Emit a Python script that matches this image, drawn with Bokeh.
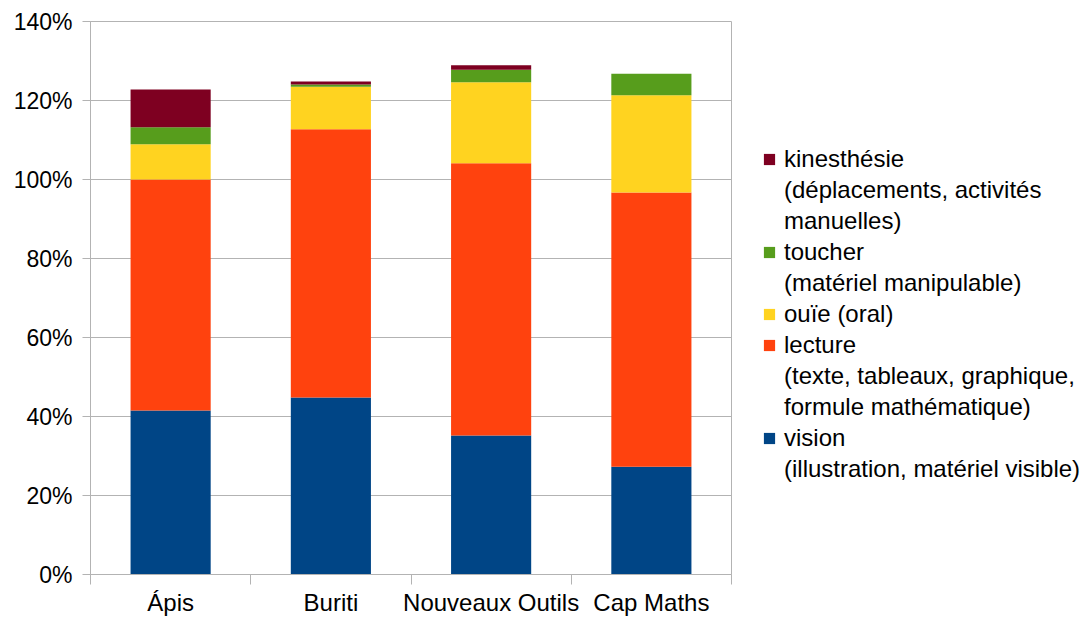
from bokeh.plotting import figure
from bokeh.layouts import row
from bokeh.models import (FixedTicker, PrintfTickFormatter, Legend, LegendItem, ColumnDataSource, Range1d)
from bokeh.embed import file_html
from bokeh.resources import INLINE

categories = ["Ápis", "Buriti", "Nouveaux Outils", "Cap Maths"]
vision = [41.5, 44.8, 35.2, 27.3]
lecture = [58.5, 67.9, 68.9, 69.4]
ouie = [8.9, 10.8, 20.5, 24.6]
toucher = [4.3, 0.55, 3.2, 5.5]
kinesthesie = [9.6, 0.75, 1.1, 0.0]
y_ticks = [0, 20, 40, 60, 80, 100, 120, 140]

series = [
    ("vision", vision, "#004586", ["vision", "(illustration, matériel visible)"]),
    ("lecture", lecture, "#ff420e", ["lecture", "(texte, tableaux, graphique,", "formule mathématique)"]),
    ("ouie", ouie, "#ffd320", ["ouïe (oral)"]),
    ("toucher", toucher, "#579d1c", ["toucher", "(matériel manipulable)"]),
    ("kinesthesie", kinesthesie, "#7e0021", ["kinesthésie", "(déplacements, activités", "manuelles)"]),
]

FONT = "Liberation Sans"
GRID = "#b3b3b3"

p = figure(width=741, height=618, output_backend="svg", toolbar_location=None,
           x_range=Range1d(0, len(categories)), y_range=Range1d(0, 140))
p.min_border_left = 90
p.min_border_top = 21
p.min_border_bottom = 43
p.min_border_right = 10
p.outline_line_color = GRID

xs = [i + 0.5 for i in range(len(categories))]
data = {"x": xs}
for key, vals, _, _ in series:
    data[key] = vals
src = ColumnDataSource(data)
keys = [s[0] for s in series]
colors = [s[2] for s in series]
p.vbar_stack(keys, x="x", width=0.5, source=src, color=colors, line_width=0)

# axes
p.xaxis.ticker = FixedTicker(ticks=xs, minor_ticks=list(range(len(categories) + 1)))
p.xaxis.major_label_overrides = {x: c for x, c in zip(xs, categories)}
p.xaxis.major_tick_line_color = None
p.xaxis.major_tick_out = 0
p.xaxis.major_tick_in = 0
p.xaxis.minor_tick_line_color = GRID
p.xaxis.minor_tick_out = 10
p.xaxis.minor_tick_in = 0
p.xaxis.axis_line_color = GRID
p.xaxis.major_label_text_font = FONT
p.xaxis.major_label_text_font_size = "24px"
p.xaxis.major_label_text_color = "#000000"
p.xaxis.major_label_standoff = 4

p.yaxis.ticker = FixedTicker(ticks=y_ticks, minor_ticks=[])
p.yaxis.formatter = PrintfTickFormatter(format="%d%%")
p.yaxis.axis_line_color = GRID
p.yaxis.major_tick_line_color = GRID
p.yaxis.major_tick_out = 8
p.yaxis.major_tick_in = 0
p.yaxis.major_label_text_font = FONT
p.yaxis.major_label_text_font_size = "23px"
p.yaxis.major_label_text_color = "#000000"
p.yaxis.major_label_standoff = 10

p.xgrid.grid_line_color = None
p.ygrid.grid_line_color = GRID
p.ygrid.ticker = FixedTicker(ticks=y_ticks)

# legend panel: hidden proxy renderers supply the legend swatches
lg = figure(width=349, height=618, output_backend="svg", toolbar_location=None,
            x_axis_location=None, y_axis_location=None,
            x_range=Range1d(0, 4), y_range=Range1d(0, 140),
            min_border=0, outline_line_color=None)
lg.grid.visible = False
proxies = lg.vbar_stack(keys, x="x", width=0.5, source=src, color=colors, line_width=0)
blank = lg.vbar(x="x", top="vision", width=0.5, source=src, fill_alpha=0, line_alpha=0)
for r in list(proxies) + [blank]:
    r.visible = False

items = []
for (key, vals, color, lines), r in reversed(list(zip(series, proxies))):
    items.append(LegendItem(label=lines[0], renderers=[r]))
    for extra in lines[1:]:
        items.append(LegendItem(label=extra, renderers=[blank]))

legend = Legend(items=items, location=(21, 91), padding=0, margin=0,
                border_line_color=None, background_fill_alpha=0,
                glyph_width=14, glyph_height=14, label_standoff=8,
                label_text_font=FONT, label_text_font_size="24px",
                label_text_color="#000000",
                inactive_fill_alpha=0,
                label_height=28, spacing=3)
lg.add_layout(legend, "center")

layout = row(p, lg, spacing=0)
open("out.html", "w").write(file_html(layout, INLINE))
